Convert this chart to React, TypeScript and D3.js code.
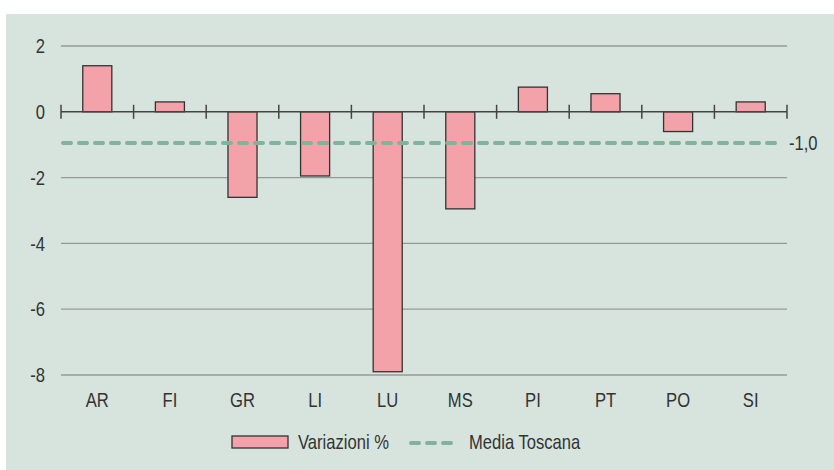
import { useRef, useEffect } from 'react';
import * as d3 from 'd3';

const provinces = ['AR', 'FI', 'GR', 'LI', 'LU', 'MS', 'PI', 'PT', 'PO', 'SI'];
const variazioni = [1.4, 0.3, -2.6, -1.95, -7.9, -2.95, 0.75, 0.55, -0.6, 0.3];
const mediaToscana = -0.95;
const mediaLabel = '-1,0';
const yTicks = [2, 0, -2, -4, -6, -8];

const FONT = '"Liberation Sans Narrow", "Arial Narrow", "Liberation Sans", sans-serif';
const SQUEEZE = 0.83;

const App = () => {
  const ref = useRef<SVGSVGElement>(null);

  useEffect(() => {
    const svg = d3.select(ref.current);
    svg.selectAll('*').remove();
    const W = 834, H = 470;

    // narrow-looking text: squeeze horizontally around the anchor point
    const label = (g: any, tx: number, ty: number, txt: string, anchor = 'start') =>
      g.append('text')
        .attr('transform', `translate(${tx},${ty}) scale(${SQUEEZE},1)`)
        .attr('dy', '0.36em')
        .attr('text-anchor', anchor)
        .attr('font-family', FONT)
        .attr('font-size', 20)
        .attr('fill', '#333')
        .text(txt);

    svg.append('rect')
      .attr('x', 6).attr('y', 14)
      .attr('width', W - 6).attr('height', H - 14)
      .attr('fill', '#d6e4dd');

    const x = d3.scaleBand()
      .domain(provinces)
      .range([61, 787])
      .paddingInner(0.6)
      .paddingOuter(0.3);

    const y = d3.scaleLinear().domain([-8, 2]).range([375, 46]);

    // grid lines
    svg.append('g')
      .selectAll('line')
      .data(yTicks.filter(d => d !== 0))
      .enter().append('line')
      .attr('x1', 61).attr('x2', 787)
      .attr('y1', d => y(d)).attr('y2', d => y(d))
      .attr('stroke', '#949a97')
      .attr('stroke-width', 1.3);

    // y labels
    const yg = svg.append('g');
    yTicks.forEach(t => label(yg, 45, y(t), String(t), 'end'));

    // bars
    svg.append('g')
      .selectAll('rect')
      .data(variazioni)
      .enter().append('rect')
      .attr('x', (d, i) => x(provinces[i])!)
      .attr('y', d => y(Math.max(0, d)))
      .attr('width', x.bandwidth())
      .attr('height', d => Math.abs(y(d) - y(0)))
      .attr('fill', '#f4a2a9')
      .attr('stroke', '#333')
      .attr('stroke-width', 1.3);

    // zero axis with ticks
    const step = x.step();
    svg.append('line')
      .attr('x1', 61).attr('x2', 787)
      .attr('y1', y(0)).attr('y2', y(0))
      .attr('stroke', '#444')
      .attr('stroke-width', 1.5);
    svg.append('g')
      .selectAll('line')
      .data(d3.range(provinces.length + 1))
      .enter().append('line')
      .attr('x1', i => 61 + i * step).attr('x2', i => 61 + i * step)
      .attr('y1', y(0) - 7).attr('y2', y(0) + 7)
      .attr('stroke', '#444')
      .attr('stroke-width', 1.5);

    // media toscana
    svg.append('line')
      .attr('x1', 63).attr('x2', 776)
      .attr('y1', y(mediaToscana)).attr('y2', y(mediaToscana))
      .attr('stroke', '#7fb39c')
      .attr('stroke-width', 4)
      .attr('stroke-linecap', 'round')
      .attr('stroke-dasharray', '8 8');
    label(svg, 789, y(mediaToscana), mediaLabel);

    // x labels
    const xg = svg.append('g');
    provinces.forEach(p => label(xg, x(p)! + x.bandwidth() / 2, 400, p, 'middle'));

    // legend
    svg.append('rect')
      .attr('x', 232).attr('y', 436)
      .attr('width', 56).attr('height', 12)
      .attr('fill', '#f4a2a9')
      .attr('stroke', '#333')
      .attr('stroke-width', 1.3);
    label(svg, 298, 442, 'Variazioni %');
    svg.append('line')
      .attr('x1', 411).attr('x2', 451)
      .attr('y1', 443).attr('y2', 443)
      .attr('stroke', '#7fb39c')
      .attr('stroke-width', 4)
      .attr('stroke-linecap', 'round')
      .attr('stroke-dasharray', '8 8');
    label(svg, 469, 442, 'Media Toscana');
  }, []);

  return (
    <svg ref={ref} width={834} height={470} style={{ position: 'absolute', left: 0, top: 0 }}></svg>
  );
};

export default App;
